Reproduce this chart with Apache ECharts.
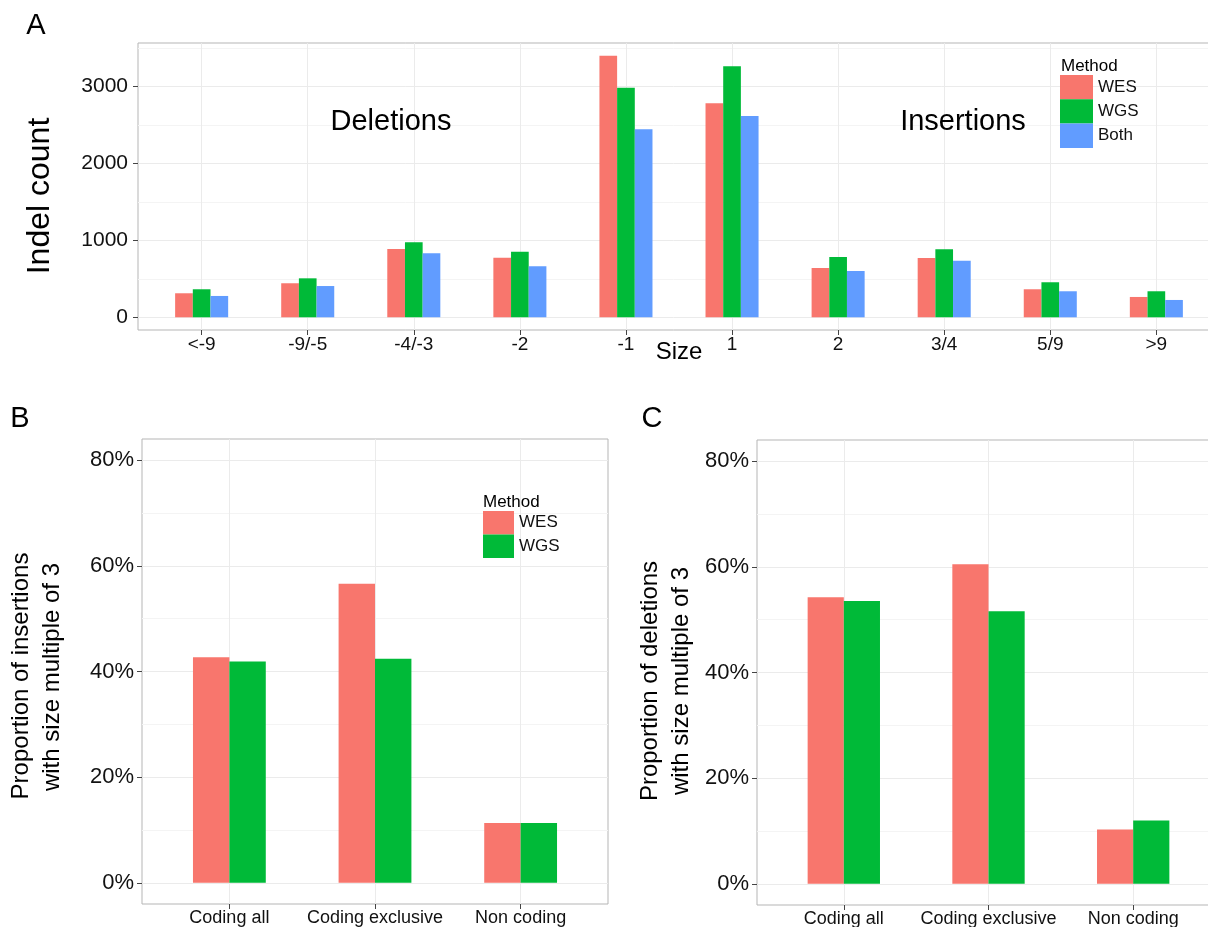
<!DOCTYPE html>
<html><head><meta charset="utf-8">
<script src="https://cdn.jsdelivr.net/npm/echarts@6/dist/echarts.min.js"></script>
<style>html,body{margin:0;padding:0;background:#fff}#c{width:1208px;height:927px}</style>
</head><body><div id="c"></div>
<script>
// ---- data ----
const sizeCategories = ['<-9','-9/-5','-4/-3','-2','-1','1','2','3/4','5/9','>9'];
const countWES  = [312, 442, 887, 774, 3398, 2779, 640, 770, 364, 264];
const countWGS  = [364, 506, 974, 852, 2982, 3260, 783, 883, 455, 338];
const countBoth = [277, 406, 831, 662, 2441, 2614, 601, 735, 338, 225];
const countTicks = [0, 1000, 2000, 3000];
const countMinorTicks = [500, 1500, 2500, 3500];
const regionCategories = ['Coding all', 'Coding exclusive', 'Non coding'];
const insWES = [0.427, 0.566, 0.1135];
const insWGS = [0.419, 0.424, 0.1135];
const delWES = [0.5425, 0.605, 0.103];
const delWGS = [0.5355, 0.516, 0.120];
const pctTicks = [0, 0.2, 0.4, 0.6, 0.8];
const pctMinorTicks = [0.1, 0.3, 0.5, 0.7];

const COLORS = { WES: '#F8766D', WGS: '#00BA38', Both: '#619CFF' };
const FONT = 'Liberation Sans, Arial, Helvetica, sans-serif';
const TXT = '#111';

const chart = echarts.init(document.getElementById('c'), null, { renderer: 'canvas' });

function idx(arr) { return arr.map((_, i) => i); }
function pairs(arr) { return arr.map((v, i) => [i, v]); }

function xAxisFor(gridIndex, cats) {
  const vals = idx(cats);
  return {
    type: 'value', gridIndex, min: -0.6, max: cats.length - 1 + 0.6, position: 'bottom',
    axisLine: { show: false, onZero: false },
    axisTick: { show: true, customValues: vals, length: 5, lineStyle: { color: '#444' } },
    axisLabel: { customValues: vals, formatter: v => cats[Math.round(v)], color: TXT,
                 fontFamily: FONT, fontSize: gridIndex === 0 ? 19 : 18, margin: gridIndex === 0 ? 5 : 5 },
    splitLine: { show: true, lineStyle: { color: '#ebebeb', width: 1 } }
  };
}
function yAxisFor(gridIndex, min, max, ticks, fmt, fs, margin) {
  return {
    type: 'value', gridIndex, min, max, position: 'left',
    axisLine: { show: false, onZero: false },
    axisTick: { show: true, customValues: ticks, length: 5, lineStyle: { color: '#444' } },
    axisLabel: { customValues: ticks, formatter: fmt, color: TXT, fontFamily: FONT, fontSize: fs, margin },
    splitLine: { show: true, lineStyle: { color: '#ebebeb', width: 1 } }
  };
}
function minorYAxis(gridIndex, min, max, ticks) {
  return {
    type: 'value', gridIndex, min, max, position: 'right',
    axisLine: { show: false, onZero: false },
    axisTick: { show: false, customValues: ticks },
    axisLabel: { show: false, customValues: ticks },
    splitLine: { show: true, lineStyle: { color: '#f4f4f4', width: 1 } }
  };
}
function bar(name, data, xi, yi) {
  return {
    type: 'bar', name, data: pairs(data), xAxisIndex: xi, yAxisIndex: yi,
    barGap: '0%', barCategoryGap: '50%',
    itemStyle: { color: COLORS[name] }, silent: true
  };
}
const pctFmt = v => Math.round(v * 100) + '%';

const gridStyle = { show: true, borderColor: '#b5b5b5', borderWidth: 1, backgroundColor: '#fff', containLabel: false, outerBoundsMode: 'none' };

function txt(x, y, text, size, opts) {
  return Object.assign({ type: 'text', x, y, z: 200,
    style: { text, font: size + 'px ' + FONT, fill: '#000', align: 'center', verticalAlign: 'middle' } }, opts || {});
}

const option = {
  animation: false,
  backgroundColor: '#fff',
  grid: [
    Object.assign({ left: 138, top: 43, width: 1082, height: 287 }, gridStyle),
    Object.assign({ left: 142, top: 439, width: 466, height: 465 }, gridStyle),
    Object.assign({ left: 757, top: 440, width: 463, height: 465 }, gridStyle)
  ],
  xAxis: [
    xAxisFor(0, sizeCategories),
    xAxisFor(1, regionCategories),
    xAxisFor(2, regionCategories)
  ],
  yAxis: [
    yAxisFor(0, -165, 3562, countTicks, v => String(v), 21, 10),
    minorYAxis(0, -165, 3562, countMinorTicks),
    yAxisFor(1, -0.04, 0.84, pctTicks, pctFmt, 22, 8),
    minorYAxis(1, -0.04, 0.84, pctMinorTicks),
    yAxisFor(2, -0.04, 0.84, pctTicks, pctFmt, 22, 8),
    minorYAxis(2, -0.04, 0.84, pctMinorTicks)
  ],
  legend: [
    {
      data: ['WES', 'WGS', 'Both'], orient: 'vertical', left: 1060, top: 75,
      itemWidth: 33, itemHeight: 24.3, itemGap: 0, icon: 'rect', selectedMode: false,
      textStyle: { fontFamily: FONT, fontSize: 17, color: TXT }, padding: 0
    },
    {
      data: ['WES', 'WGS'], orient: 'vertical', left: 483, top: 511,
      itemWidth: 31, itemHeight: 23.5, itemGap: 0, icon: 'rect', selectedMode: false,
      textStyle: { fontFamily: FONT, fontSize: 17, color: TXT }, padding: 0
    }
  ],
  series: [
    bar('WES', countWES, 0, 0),
    bar('WGS', countWGS, 0, 0),
    bar('Both', countBoth, 0, 0),
    bar('WES', insWES, 1, 2),
    bar('WGS', insWGS, 1, 2),
    bar('WES', delWES, 2, 4),
    bar('WGS', delWGS, 2, 4)
  ],
  graphic: [
    txt(36, 26, 'A', 29),
    txt(20, 419, 'B', 29),
    txt(652, 419, 'C', 29),
    txt(40, 196, 'Indel count', 32, { rotation: Math.PI / 2 }),
    txt(679, 352, 'Size', 24),
    txt(391, 122, 'Deletions', 29),
    txt(963, 122, 'Insertions', 29),
    txt(1061, 66, 'Method', 17, { style: { text: 'Method', font: '17px ' + FONT, fill: '#000', align: 'left', verticalAlign: 'middle' } }),
    txt(483, 502, 'Method', 17, { style: { text: 'Method', font: '17px ' + FONT, fill: '#000', align: 'left', verticalAlign: 'middle' } }),
    txt(21, 676, 'Proportion of insertions', 24, { rotation: Math.PI / 2 }),
    txt(52, 677, 'with size multiple of 3', 24, { rotation: Math.PI / 2 }),
    txt(650, 681, 'Proportion of deletions', 24, { rotation: Math.PI / 2 }),
    txt(681, 681, 'with size multiple of 3', 24, { rotation: Math.PI / 2 })
  ]
};
chart.setOption(option);
</script>
</body></html>
